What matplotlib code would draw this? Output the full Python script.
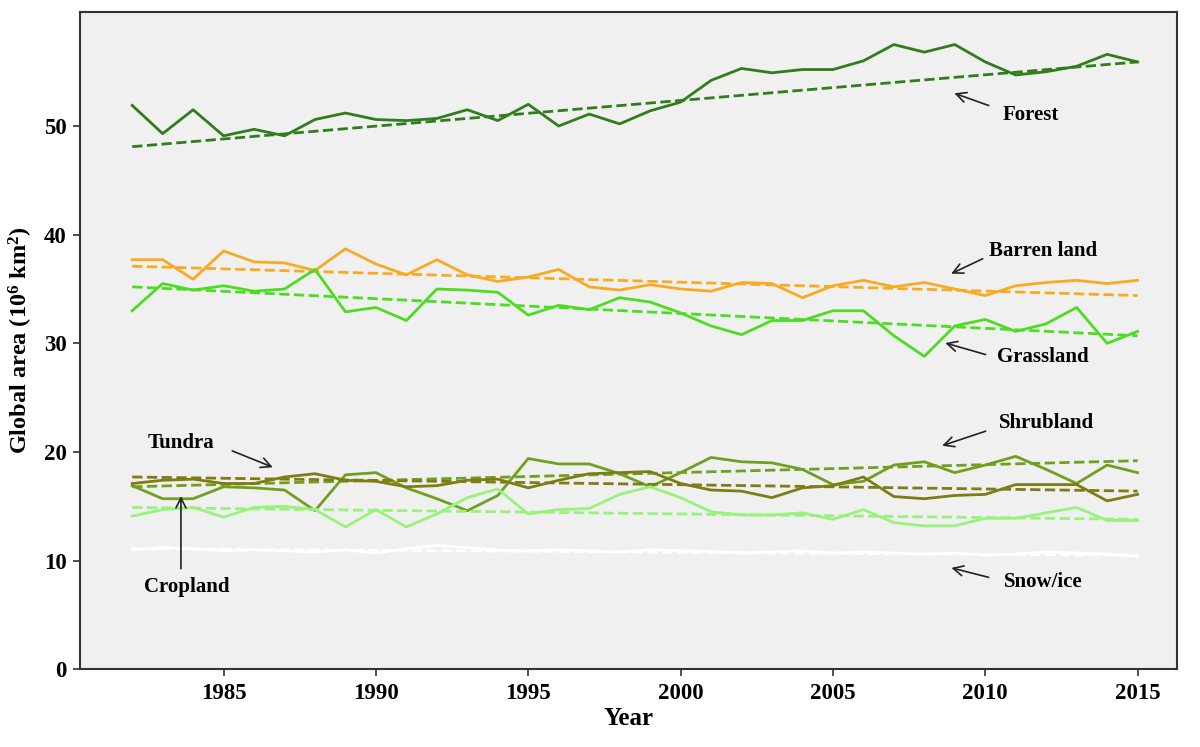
import matplotlib.pyplot as plt
import numpy as np

plt.rcParams['font.family'] = ['Liberation Serif', 'DejaVu Serif']
plt.rcParams['font.weight'] = 'bold'
plt.rcParams['mathtext.default'] = 'regular'

years = np.arange(1982, 2016)

forest = [51.9, 49.3, 51.5, 49.1, 49.7, 49.1, 50.6, 51.2, 50.6, 50.5, 50.7, 51.5,
          50.5, 52.0, 50.0, 51.1, 50.2, 51.4, 52.2, 54.2, 55.3, 54.9, 55.2, 55.2,
          56.0, 57.5, 56.8, 57.5, 55.9, 54.7, 55.0, 55.5, 56.6, 55.9]
barren = [37.7, 37.7, 35.9, 38.5, 37.5, 37.4, 36.7, 38.7, 37.3, 36.3, 37.7, 36.3,
          35.7, 36.1, 36.8, 35.2, 34.9, 35.4, 35.0, 34.8, 35.6, 35.5, 34.2, 35.3,
          35.8, 35.2, 35.6, 35.0, 34.4, 35.3, 35.6, 35.8, 35.5, 35.8]
grass = [33.0, 35.5, 34.9, 35.3, 34.8, 35.0, 36.8, 32.9, 33.3, 32.1, 35.0, 34.9,
         34.7, 32.6, 33.5, 33.1, 34.2, 33.8, 32.8, 31.6, 30.8, 32.1, 32.1, 33.0,
         33.0, 30.7, 28.8, 31.6, 32.2, 31.1, 31.8, 33.3, 30.0, 31.1]
shrub = [16.9, 15.7, 15.7, 16.8, 16.7, 16.5, 14.6, 17.9, 18.1, 16.7, 15.7, 14.6,
         16.0, 19.4, 18.9, 18.9, 18.0, 16.8, 18.1, 19.5, 19.1, 19.0, 18.4, 17.0,
         17.3, 18.8, 19.1, 18.1, 18.8, 19.6, 18.4, 17.1, 18.8, 18.1]
tundra = [17.1, 17.4, 17.5, 17.1, 17.1, 17.7, 18.0, 17.4, 17.3, 16.8, 16.9, 17.4,
          17.5, 16.7, 17.4, 18.0, 18.1, 18.2, 17.1, 16.5, 16.4, 15.8, 16.7, 16.9,
          17.7, 15.9, 15.7, 16.0, 16.1, 17.0, 17.0, 17.0, 15.5, 16.1]
crop = [14.1, 14.7, 14.9, 14.0, 14.9, 15.0, 14.7, 13.1, 14.7, 13.1, 14.3, 15.8,
        16.6, 14.3, 14.7, 14.8, 16.1, 16.8, 15.8, 14.5, 14.2, 14.2, 14.4, 13.8,
        14.7, 13.5, 13.2, 13.2, 13.9, 13.9, 14.4, 14.9, 13.7, 13.7]
snow = [11.0, 11.2, 11.1, 10.9, 11.0, 10.9, 10.8, 11.0, 10.7, 11.1, 11.4, 11.2,
        10.95, 10.9, 11.0, 10.9, 10.8, 11.0, 10.9, 10.85, 10.7, 10.8, 10.9, 10.7,
        10.8, 10.7, 10.6, 10.7, 10.5, 10.6, 10.8, 10.7, 10.6, 10.4]

# trend line values at 1982 and 2015
trend_start = [48.1, 37.1, 35.2, 16.8, 17.7, 14.9, 11.1]
trend_end = [55.9, 34.4, 30.7, 19.2, 16.4, 13.8, 10.5]

all_series = [forest, barren, grass, shrub, tundra, crop, snow]
colors = ['#2f7d1c', '#f7aa22', '#4cdc22', '#6fa01f', '#7e7c14', '#98f27c', '#ffffff']

# label, text pos, arrow tail, arrow head
labels = [
    ('Forest', (2011.5, 51.0), (2010.2, 51.8), (2008.9, 53.1)),
    ('Barren land', (2011.9, 38.5), (2010.0, 37.9), (2008.8, 36.3)),
    ('Grassland', (2011.9, 28.7), (2010.1, 28.9), (2008.6, 30.1)),
    ('Shrubland', (2012.0, 22.7), (2010.1, 22.0), (2008.5, 20.5)),
    ('Tundra', (1983.6, 20.8), (1985.2, 20.2), (1986.7, 18.5)),
    ('Cropland', (1983.8, 7.6), (1983.6, 9.0), (1983.6, 16.2)),
    ('Snow/ice', (2011.9, 8.0), (2010.2, 8.4), (2008.8, 9.4)),
]

fig = plt.figure(figsize=(12, 7.47), dpi=100)
ax = fig.add_axes([0.067, 0.104, 0.914, 0.88])
ax.set_facecolor('#f0f0f0')

for vals, col, t0, t1 in zip(all_series, colors, trend_start, trend_end):
    ax.plot(years, vals, color=col, lw=2)
    ax.plot([years[0], years[-1]], [t0, t1], color=col, lw=2, ls='--')

for name, tpos, tail, head in labels:
    ax.annotate('', xy=head, xytext=tail,
                arrowprops=dict(arrowstyle='->', color='#222222', lw=1.2,
                                mutation_scale=18))
    ax.text(tpos[0], tpos[1], name, ha='center', va='center', fontsize=15,
            fontweight='bold')

ax.set_xlim(1980.3, 2016.3)
ax.set_ylim(0, 60.5)
ax.set_xticks([1985, 1990, 1995, 2000, 2005, 2010, 2015])
ax.set_yticks([0, 10, 20, 30, 40, 50])
ax.tick_params(labelsize=16.5, length=5, width=1.2, color='#333333', pad=5)
for s in ax.spines.values():
    s.set_color('#333333')
    s.set_linewidth(1.5)

ax.set_xlabel('Year', fontsize=18, fontweight='bold', labelpad=2)
ax.set_ylabel('Global area (10$^6$ km$^2$)', fontsize=17.5, fontweight='bold',
              labelpad=6)

fig.savefig('out.png', dpi=100)
